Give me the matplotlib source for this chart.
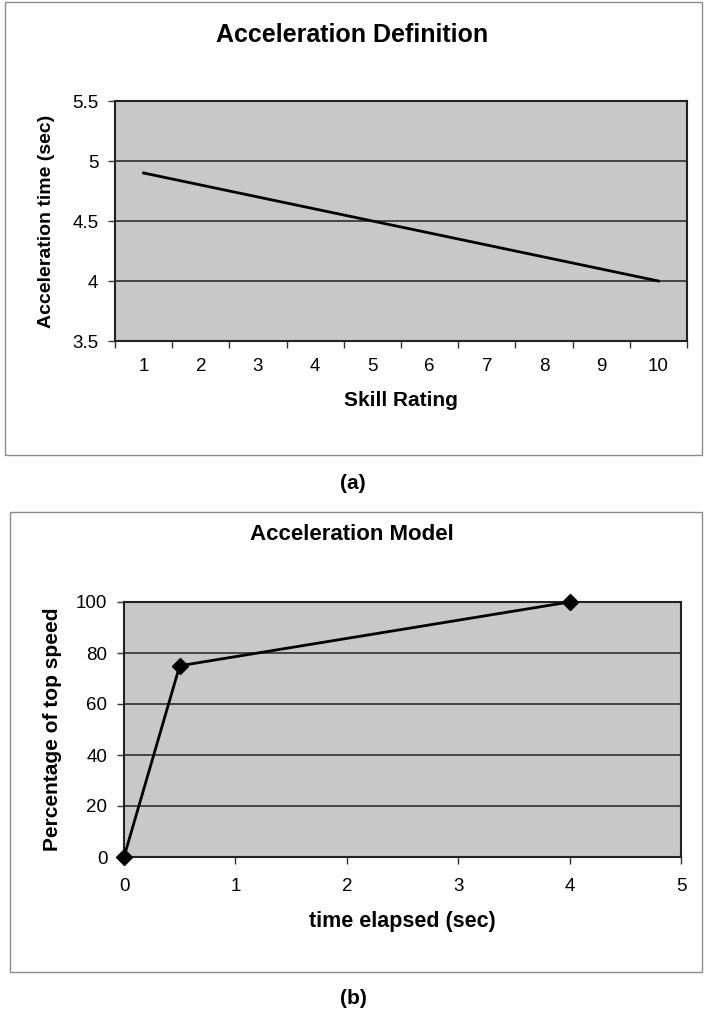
import numpy as np
import matplotlib
matplotlib.use('Agg')
import matplotlib.pyplot as plt
from matplotlib.patches import Rectangle

plt.rcParams['font.family'] = ['Liberation Sans', 'DejaVu Sans']

# chart (a) data
skill_rating = [1, 2, 3, 4, 5, 6, 7, 8, 9, 10]
accel_time = [4.9, 4.8, 4.7, 4.6, 4.5, 4.4, 4.3, 4.2, 4.1, 4.0]

# chart (b) data
time_elapsed = [0, 0.5, 4]
pct_top_speed = [0, 75, 100]

W, H = 707, 1015
fig = plt.figure(figsize=(W / 100, H / 100), dpi=100)

plot_bg = '#c8c8c8'


def px_axes(left, top, right, bottom):
    # axes from pixel box (origin top-left)
    return fig.add_axes([left / W, 1 - bottom / H, (right - left) / W, (bottom - top) / H])


def px_text(x, y, s, **kw):
    fig.text(x / W, 1 - y / H, s, ha='center', va='center', **kw)


def px_box(left, top, right, bottom):
    fig.add_artist(Rectangle((left / W, 1 - bottom / H), (right - left) / W, (bottom - top) / H,
                             transform=fig.transFigure, fill=False, edgecolor='#8a8a8a', lw=1))


def style_axes(ax, fs):
    ax.set_facecolor(plot_bg)
    for sp in ax.spines.values():
        sp.set_color('#222222')
        sp.set_linewidth(1.5)
    ax.yaxis.grid(True, color='#222222', linewidth=1.1)
    ax.set_axisbelow(True)
    ax.tick_params(axis='both', which='major', direction='out', length=5, width=1, color='#333333',
                   labelsize=fs, pad=7)


# ---- (a) Acceleration Definition ----
px_box(5, 2, 702, 455)
px_text(352, 35, 'Acceleration Definition', fontsize=18, fontweight='bold')
ax1 = px_axes(115, 101, 687, 341)
style_axes(ax1, 13.5)
ax1.plot(skill_rating, accel_time, color='black', lw=2)
ax1.set_xlim(0.5, 10.5)
ax1.set_ylim(3.5, 5.5)
ax1.set_yticks([3.5, 4, 4.5, 5, 5.5])
ax1.set_yticklabels(['3.5', '4', '4.5', '5', '5.5'])
ax1.set_xticks(np.arange(0.5, 11, 1))
ax1.set_xticklabels([])
ax1.set_xticks(skill_rating, minor=True)
ax1.set_xticklabels([str(s) for s in skill_rating], minor=True)
ax1.tick_params(axis='x', which='minor', length=0, labelsize=13.5, pad=12)
ax1.set_xlabel('Skill Rating', fontsize=15, fontweight='bold', labelpad=12)
ax1.set_ylabel('Acceleration time (sec)', fontsize=14, fontweight='bold', labelpad=12)

px_text(353, 483, '(a)', fontsize=15, fontweight='bold')

# ---- (b) Acceleration Model ----
px_box(10, 512, 702, 972)
px_text(352, 535, 'Acceleration Model', fontsize=16, fontweight='bold')
ax2 = px_axes(124, 602, 681, 857)
style_axes(ax2, 13.5)
ax2.plot(time_elapsed, pct_top_speed, color='black', lw=2, marker='D', markersize=8,
         clip_on=False, zorder=5)
ax2.set_xlim(0, 5)
ax2.set_ylim(0, 100)
ax2.set_yticks([0, 20, 40, 60, 80, 100])
ax2.set_xticks([0, 1, 2, 3, 4, 5])
ax2.tick_params(axis='x', pad=10)
ax2.set_xlabel('time elapsed (sec)', fontsize=15.5, fontweight='bold', labelpad=12)
ax2.set_ylabel('Percentage of top speed', fontsize=15, fontweight='bold', labelpad=10)

px_text(353, 998, '(b)', fontsize=15, fontweight='bold')

fig.savefig('out.png', dpi=100)
